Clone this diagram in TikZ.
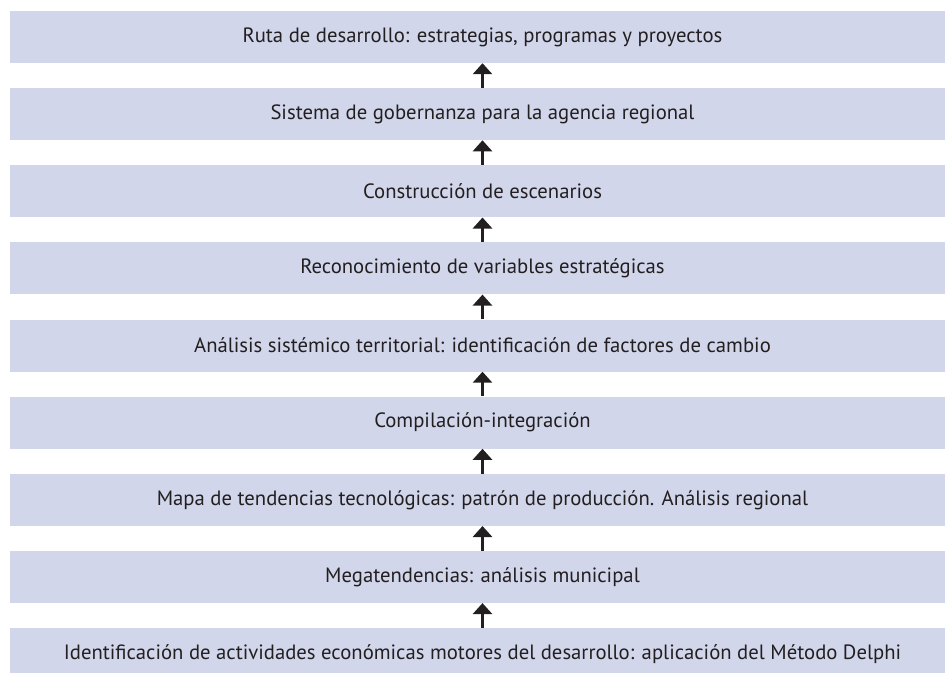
\documentclass[tikz,border=0pt]{standalone}
\usepackage{fontspec}
\setmainfont{PT Sans}
\usepackage{tikz}
\usetikzlibrary{arrows.meta}
\definecolor{boxfill}{RGB}{209,214,235}
\definecolor{ink}{RGB}{35,31,32}

\tikzset{
  stage/.style={rectangle, fill=boxfill, text=ink, minimum width=945pt, minimum height=52pt,
    inner sep=0pt, font=\fontsize{20.7}{23}\selectfont},
  upflow/.style={draw=ink, line width=3pt, -{Triangle[width=19pt,length=11pt]}}
}

\begin{document}
\begin{tikzpicture}[x=1pt,y=-1pt]
    \useasboundingbox (0,0) rectangle (945,672);
    \clip (0,0) rectangle (945,672);
    \node[stage] (ruta) at (482.5,37) {Ruta de desarrollo: estrategias, programas y proyectos};
    \node[stage] (gobernanza) at (482.5,114.1) {Sistema de gobernanza para la agencia regional};
    \node[stage] (escenarios) at (482.5,191.3) {Construcción de escenarios};
    \node[stage] (variables) at (482.5,268.4) {Reconocimiento de variables estratégicas};
    \node[stage] (sistemico) at (482.5,345.5) {Análisis sistémico territorial: identificación de factores de cambio};
    \node[stage] (compilacion) at (482.5,422.6) {Compilación-integración};
    \node[stage] (mapa) at (482.5,499.8) {Mapa de tendencias tecnológicas: patrón de producción. Análisis regional};
    \node[stage] (mega) at (482.5,576.9) {Megatendencias: análisis municipal};
    \node[stage] (delphi) at (482.5,654) {Identificación de actividades económicas motores del desarrollo: aplicación del Método Delphi};
    % flechas hacia arriba
    \draw[upflow] (gobernanza.north) -- (ruta.south);
    \draw[upflow] (escenarios.north) -- (gobernanza.south);
    \draw[upflow] (variables.north) -- (escenarios.south);
    \draw[upflow] (sistemico.north) -- (variables.south);
    \draw[upflow] (compilacion.north) -- (sistemico.south);
    \draw[upflow] (mapa.north) -- (compilacion.south);
    \draw[upflow] (mega.north) -- (mapa.south);
    \draw[upflow] (delphi.north) -- (mega.south);
\end{tikzpicture}
\end{document}
